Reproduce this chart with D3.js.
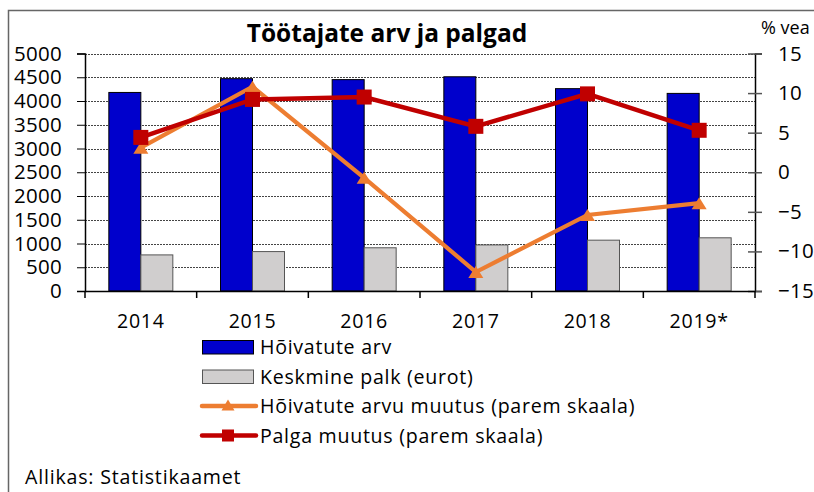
<!DOCTYPE html>
<html>
<head>
<meta charset="utf-8">
<script src="https://cdn.jsdelivr.net/npm/d3@7"></script>
<style>
  body { margin: 0; background: #fff; }
  svg { display: block; font-family: "Open Sans", sans-serif; }
</style>
</head>
<body>
<div id="chart"></div>
<script>
// data
var years = ["2014", "2015", "2016", "2017", "2018", "2019*"];
var employed = [4180, 4470, 4450, 4510, 4260, 4160];      // Hõivatute arv
var avgWage = [760, 830, 910, 970, 1070, 1120];           // Keskmine palk (eurot)
var employedChange = [3.1, 10.8, -0.7, -12.6, -5.4, -3.9]; // % right scale
var wageChange = [4.4, 9.2, 9.5, 5.8, 9.9, 5.3];           // % right scale
var leftTicks = d3.range(0, 5001, 500);
var rightTicks = d3.range(-15, 16, 5);

var width = 814, height = 492;
var plot = { left: 85, right: 755, top: 53.5, bottom: 291 };
var font = "'Open Sans', sans-serif";

var svg = d3.select("#chart").append("svg")
  .attr("width", width)
  .attr("height", height);

// outer frame
svg.append("path")
  .attr("d", "M8.5," + height + "V10.5H" + width)
  .attr("fill", "none")
  .attr("stroke", "#666")
  .attr("stroke-width", 1.5);

var x = d3.scaleBand().domain(years).range([plot.left, plot.right]);
var xInner = d3.scaleBand().domain(["emp", "wage"]).range([0, x.bandwidth()]).paddingOuter(0.745);
var yL = d3.scaleLinear().domain([0, 5000]).range([plot.bottom, plot.top]);
var yR = d3.scaleLinear().domain([-15, 15]).range([plot.bottom, plot.top]);

// excel-like flat triangle marker, centred on its box
function triangle(w, h) {
  return {
    draw: function(ctx) {
      ctx.moveTo(0, -h / 2);
      ctx.lineTo(w / 2, h / 2);
      ctx.lineTo(-w / 2, h / 2);
      ctx.closePath();
    }
  };
}

// gridlines
svg.append("g")
  .selectAll("line")
  .data(leftTicks)
  .join("line")
  .attr("x1", plot.left)
  .attr("x2", plot.right)
  .attr("y1", function(d) { return Math.round(yL(d)) + 0.5; })
  .attr("y2", function(d) { return Math.round(yL(d)) + 0.5; })
  .attr("stroke", "#444")
  .attr("stroke-width", 1)
  .attr("stroke-dasharray", "2,1");

// bars
var rows = years.map(function(y, i) { return { year: y, emp: employed[i], wage: avgWage[i] }; });

svg.append("g").selectAll("rect")
  .data(rows)
  .join("rect")
  .attr("x", function(d) { return x(d.year) + xInner("emp"); })
  .attr("y", function(d) { return yL(d.emp); })
  .attr("width", xInner.bandwidth())
  .attr("height", function(d) { return yL(0) - yL(d.emp); })
  .attr("fill", "#0000CC")
  .attr("stroke", "#000")
  .attr("stroke-width", 1);

svg.append("g").selectAll("rect")
  .data(rows)
  .join("rect")
  .attr("x", function(d) { return x(d.year) + xInner("wage"); })
  .attr("y", function(d) { return yL(d.wage); })
  .attr("width", xInner.bandwidth())
  .attr("height", function(d) { return yL(0) - yL(d.wage); })
  .attr("fill", "#D0CECE")
  .attr("stroke", "#555")
  .attr("stroke-width", 1);

// left axis
var leftAxis = svg.append("g")
  .attr("transform", "translate(" + plot.left + ",0)")
  .call(d3.axisLeft(yL).tickValues(leftTicks).tickFormat(d3.format("d")).tickSize(8).tickPadding(15));
leftAxis.select(".domain").attr("stroke", "#000").attr("stroke-width", 1.5);
leftAxis.selectAll(".tick line").attr("stroke", "#000");
leftAxis.selectAll("text").attr("font-size", 20.5).attr("fill", "#000").attr("font-family", font)
  .attr("letter-spacing", 0.3);

// right axis
var rightAxis = svg.append("g")
  .attr("transform", "translate(" + plot.right + ",0)")
  .call(d3.axisRight(yR).tickValues(rightTicks).tickSize(7).tickPadding(16));
rightAxis.select(".domain").attr("stroke", "#000").attr("stroke-width", 1.5);
rightAxis.selectAll(".tick line").attr("x1", -7).attr("stroke", "#555").attr("stroke-width", 1.5);
rightAxis.selectAll("text").attr("font-size", 20.5).attr("fill", "#000").attr("font-family", font)
  .attr("letter-spacing", 0.3);

// x axis
var xAxis = svg.append("g")
  .attr("transform", "translate(0," + plot.bottom + ")")
  .call(d3.axisBottom(x).tickSize(0).tickPadding(23));
xAxis.select(".domain").attr("stroke", "#000").attr("stroke-width", 1.5);
xAxis.selectAll("text").attr("font-size", 19.6).attr("fill", "#000").attr("font-family", font)
  .attr("letter-spacing", 0.7);
xAxis.selectAll(".sep")
  .data(years.concat(["end"]))
  .join("line")
  .attr("class", "sep")
  .attr("x1", function(d) { return d === "end" ? plot.right : x(d); })
  .attr("x2", function(d) { return d === "end" ? plot.right : x(d); })
  .attr("y1", 0)
  .attr("y2", 7)
  .attr("stroke", "#000")
  .attr("stroke-width", 1.5);

// lines
var cx = function(d, i) { return x(years[i]) + x.bandwidth() / 2; };
var pctLine = d3.line().x(cx).y(function(d) { return yR(d); });

svg.append("path")
  .datum(employedChange)
  .attr("d", pctLine)
  .attr("fill", "none")
  .attr("stroke", "#ED7D31")
  .attr("stroke-width", 4.2);

svg.append("g").selectAll("path")
  .data(employedChange)
  .join("path")
  .attr("d", d3.symbol().type(triangle(15, 12)))
  .attr("transform", function(d, i) { return "translate(" + cx(d, i) + "," + yR(d) + ")"; })
  .attr("fill", "#ED7D31");

svg.append("path")
  .datum(wageChange)
  .attr("d", pctLine)
  .attr("fill", "none")
  .attr("stroke", "#C00000")
  .attr("stroke-width", 4.5);

svg.append("g").selectAll("rect")
  .data(wageChange)
  .join("rect")
  .attr("x", function(d, i) { return cx(d, i) - 7.5; })
  .attr("y", function(d) { return yR(d) - 7.5; })
  .attr("width", 15)
  .attr("height", 15)
  .attr("fill", "#C00000");

// title
svg.append("text")
  .attr("x", 387)
  .attr("y", 42)
  .attr("text-anchor", "middle")
  .attr("font-size", 24.5)
  .attr("font-weight", "bold")
  .text("Töötajate arv ja palgad");

svg.append("text")
  .attr("x", 761)
  .attr("y", 34)
  .attr("font-size", 18)
  .text("% vea");

// legend
var legendItems = [
  { label: "Hõivatute arv", kind: "bar", fill: "#0000CC", stroke: "#000" },
  { label: "Keskmine palk (eurot)", kind: "bar", fill: "#D0CECE", stroke: "#555" },
  { label: "Hõivatute arvu muutus (parem skaala)", kind: "tri", color: "#ED7D31" },
  { label: "Palga muutus (parem skaala)", kind: "sq", color: "#C00000" }
];

var legend = svg.append("g");
legendItems.forEach(function(item, i) {
  var base = 354 + i * 29.5;
  var g = legend.append("g");
  if (item.kind === "bar") {
    g.append("rect")
      .attr("x", 202.5).attr("y", base - 13.5)
      .attr("width", 51).attr("height", 13.5)
      .attr("fill", item.fill).attr("stroke", item.stroke).attr("stroke-width", 1);
  } else {
    var my = base - 7;
    g.append("line")
      .attr("x1", 202).attr("x2", 256).attr("y1", my).attr("y2", my)
      .attr("stroke", item.color).attr("stroke-width", 4.5).attr("stroke-linecap", "round");
    if (item.kind === "tri") {
      g.append("path")
        .attr("d", d3.symbol().type(triangle(13, 11)))
        .attr("transform", "translate(228," + (my - 1) + ")")
        .attr("fill", item.color);
    } else {
      g.append("rect")
        .attr("x", 222).attr("y", my - 6).attr("width", 12).attr("height", 12)
        .attr("fill", item.color);
    }
  }
  g.append("text")
    .attr("x", 260)
    .attr("y", base)
    .attr("font-size", 19.6)
    .attr("letter-spacing", 0.72)
    .text(item.label);
});

svg.append("text")
  .attr("x", 25)
  .attr("y", 484)
  .attr("font-size", 19.6)
  .attr("letter-spacing", 0.8)
  .text("Allikas: Statistikaamet");
</script>
</body>
</html>
